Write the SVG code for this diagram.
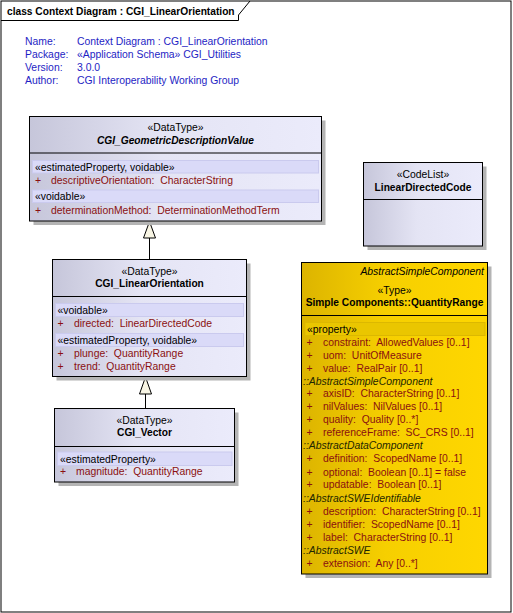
<svg xmlns="http://www.w3.org/2000/svg" width="513" height="613" viewBox="0 0 513 613">
<defs>
<linearGradient id="gBlue" x1="0" y1="0" x2="1" y2="0">
<stop offset="0" stop-color="#c6c6da"/>
<stop offset="0.45" stop-color="#e4e4f4"/>
<stop offset="1" stop-color="#ebebfb"/>
</linearGradient>
<linearGradient id="gGold" x1="0" y1="0" x2="1" y2="0">
<stop offset="0" stop-color="#dcb400"/>
<stop offset="0.45" stop-color="#f6cf00"/>
<stop offset="1" stop-color="#ffd700"/>
</linearGradient>
<style>
text{font-family:"Liberation Sans",Arial,sans-serif;font-size:10.4px;fill:#000}
.shadow{fill:#b4b4b4}
.box{fill:url(#gBlue);stroke:#000;stroke-width:1}
.gold{fill:url(#gGold);stroke:#000;stroke-width:1}
.sep{stroke:#000;stroke-width:1}
.band{fill:#dadaf8;stroke:#cacaee;stroke-width:1}
.gband{fill:#eac600;stroke:#dcb800;stroke-width:1}
.c{text-anchor:middle}
.b{font-weight:bold;font-size:10.2px}
.bi{font-weight:bold;font-style:italic;font-size:10.2px}
.a{fill:#8a1010}
.info{fill:#1e1ec4}
.grp{font-style:italic;fill:#1e2600}
.conn{stroke:#000;stroke-width:1;fill:none}
.tri{fill:#f8f5e4;stroke:#000;stroke-width:1}
</style>
</defs>
<rect x="0" y="0" width="513" height="613" fill="#fff"/>
<g id="frame">
<rect x="1" y="1" width="510" height="611" fill="none" stroke="#000" stroke-width="1"/>
<polyline points="1,20.5 238.5,20.5 238.5,15 250,1" fill="none" stroke="#000" stroke-width="1"/>
<text x="7" y="14.5" class="b">class Context Diagram : CGI_LinearOrientation</text>
</g>
<g id="info">
<text x="25" y="45" class="info">Name:</text>
<text x="77" y="45" class="info">Context Diagram : CGI_LinearOrientation</text>
<text x="25" y="58" class="info">Package:</text>
<text x="77" y="58" class="info">«Application Schema» CGI_Utilities</text>
<text x="25" y="71" class="info">Version:</text>
<text x="77" y="71" class="info">3.0.0</text>
<text x="25" y="84" class="info">Author:</text>
<text x="77" y="84" class="info">CGI Interoperability Working Group</text>
</g>
<g id="connectors">
<line x1="149.5" y1="238" x2="149.5" y2="259.5" class="conn"/>
<polygon points="149.5,221.5 143.5,238 155.5,238" class="tri"/>
<line x1="145.5" y1="394" x2="145.5" y2="408.5" class="conn"/>
<polygon points="145.5,377 139.5,394 151.5,394" class="tri"/>
</g>
<g id="CGI_GeometricDescriptionValue">
<rect x="33.5" y="120.5" width="292" height="104.5" class="shadow"/>
<rect x="29.5" y="116.5" width="292" height="104.5" class="box"/>
<line x1="29.5" y1="153" x2="321.5" y2="153" class="sep"/>
<text x="175.5" y="131" class="c">«DataType»</text>
<text x="175.5" y="143.5" class="c bi">CGI_GeometricDescriptionValue</text>
<rect x="32.5" y="160.5" width="286" height="12.5" class="band"/>
<text x="35" y="170.5">«estimatedProperty, voidable»</text>
<text x="35" y="184" class="a">+</text>
<text x="51" y="184" class="a">descriptiveOrientation:&#160; CharacterString</text>
<rect x="32.5" y="190" width="286" height="12.5" class="band"/>
<text x="35" y="200">«voidable»</text>
<text x="35" y="213.5" class="a">+</text>
<text x="51" y="213.5" class="a">determinationMethod:&#160; DeterminationMethodTerm</text>
</g>
<g id="CGI_LinearOrientation">
<rect x="56.5" y="263.5" width="194" height="117" class="shadow"/>
<rect x="52.5" y="259.5" width="194" height="117" class="box"/>
<line x1="52.5" y1="296.5" x2="246.5" y2="296.5" class="sep"/>
<text x="149.5" y="274.5" class="c">«DataType»</text>
<text x="149.5" y="287" class="c b">CGI_LinearOrientation</text>
<rect x="55.5" y="303.5" width="188" height="13" class="band"/>
<text x="57.5" y="313.5">«voidable»</text>
<text x="57.5" y="327" class="a">+</text>
<text x="74" y="327" class="a">directed:&#160; LinearDirectedCode</text>
<rect x="55.5" y="333.5" width="188" height="13" class="band"/>
<text x="57.5" y="343.5">«estimatedProperty, voidable»</text>
<text x="57.5" y="357" class="a">+</text>
<text x="74" y="357" class="a">plunge:&#160; QuantityRange</text>
<text x="57.5" y="369.5" class="a">+</text>
<text x="74" y="369.5" class="a">trend:&#160; QuantityRange</text>
</g>
<g id="CGI_Vector">
<rect x="58.5" y="412.5" width="180" height="73.5" class="shadow"/>
<rect x="54.5" y="408.5" width="180" height="73.5" class="box"/>
<line x1="54.5" y1="446.5" x2="234.5" y2="446.5" class="sep"/>
<text x="144.5" y="423.5" class="c">«DataType»</text>
<text x="144.5" y="436" class="c b">CGI_Vector</text>
<rect x="57.5" y="452" width="174.5" height="13.5" class="band"/>
<text x="60" y="462.5">«estimatedProperty»</text>
<text x="60" y="475" class="a">+</text>
<text x="76" y="475" class="a">magnitude:&#160; QuantityRange</text>
</g>
<g id="LinearDirectedCode">
<rect x="367.5" y="166.5" width="119" height="83.5" class="shadow"/>
<rect x="363.5" y="162.5" width="119" height="83.5" class="box"/>
<line x1="363.5" y1="199.5" x2="482.5" y2="199.5" class="sep"/>
<text x="423" y="178" class="c">«CodeList»</text>
<text x="423" y="190.5" class="c b">LinearDirectedCode</text>
</g>
<g id="QuantityRange">
<rect x="305.5" y="266.5" width="186" height="311.5" class="shadow"/>
<rect x="301.5" y="262.5" width="186" height="311.5" class="gold"/>
<line x1="301.5" y1="315.5" x2="487.5" y2="315.5" class="sep"/>
<text x="484" y="274.5" text-anchor="end" font-style="italic">AbstractSimpleComponent</text>
<text x="394.5" y="293.5" class="c">«Type»</text>
<text x="394.5" y="306" class="c b">Simple Components::QuantityRange</text>
<rect x="305" y="322.5" width="180" height="13" class="gband"/>
<text x="307" y="332.5">«property»</text>
<text x="306.5" y="346" class="a">+</text><text x="323" y="346" class="a">constraint:&#160; AllowedValues [0..1]</text>
<text x="306.5" y="358.7" class="a">+</text><text x="323" y="358.7" class="a">uom:&#160; UnitOfMeasure</text>
<text x="306.5" y="371.5" class="a">+</text><text x="323" y="371.5" class="a">value:&#160; RealPair [0..1]</text>
<text x="303" y="384.5" class="grp">::AbstractSimpleComponent</text>
<text x="306.5" y="397.3" class="a">+</text><text x="323" y="397.3" class="a">axisID:&#160; CharacterString [0..1]</text>
<text x="306.5" y="410.2" class="a">+</text><text x="323" y="410.2" class="a">nilValues:&#160; NilValues [0..1]</text>
<text x="306.5" y="423.2" class="a">+</text><text x="323" y="423.2" class="a">quality:&#160; Quality [0..*]</text>
<text x="306.5" y="436.1" class="a">+</text><text x="323" y="436.1" class="a">referenceFrame:&#160; SC_CRS [0..1]</text>
<text x="303" y="449.3" class="grp">::AbstractDataComponent</text>
<text x="306.5" y="462.3" class="a">+</text><text x="323" y="462.3" class="a">definition:&#160; ScopedName [0..1]</text>
<text x="306.5" y="475.5" class="a">+</text><text x="323" y="475.5" class="a">optional:&#160; Boolean [0..1] = false</text>
<text x="306.5" y="488.4" class="a">+</text><text x="323" y="488.4" class="a">updatable:&#160; Boolean [0..1]</text>
<text x="303" y="501.6" class="grp">::AbstractSWEIdentifiable</text>
<text x="306.5" y="514.8" class="a">+</text><text x="323" y="514.8" class="a">description:&#160; CharacterString [0..1]</text>
<text x="306.5" y="527.8" class="a">+</text><text x="323" y="527.8" class="a">identifier:&#160; ScopedName [0..1]</text>
<text x="306.5" y="540.8" class="a">+</text><text x="323" y="540.8" class="a">label:&#160; CharacterString [0..1]</text>
<text x="303" y="554" class="grp">::AbstractSWE</text>
<text x="306.5" y="567.2" class="a">+</text><text x="323" y="567.2" class="a">extension:&#160; Any [0..*]</text>
</g>
</svg>
